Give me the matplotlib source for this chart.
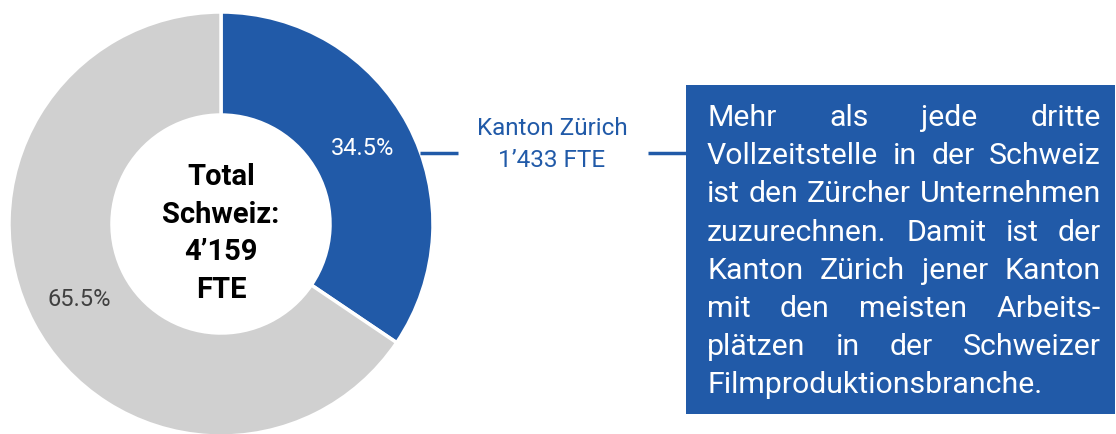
import matplotlib
matplotlib.use("Agg")
import matplotlib.pyplot as plt
from matplotlib.patches import Rectangle

# Data
labels = ['Kanton Zürich', 'Übrige Schweiz']
fte = [1433, 2726]
total_label = ['Total', 'Schweiz:', '4’159', 'FTE']
zh_label = ['Kanton Zürich', '1’433 FTE']
box_lines = [
    'Mehr als jede dritte',
    'Vollzeitstelle in der Schweiz',
    'ist den Zürcher Unternehmen',
    'zuzurechnen. Damit ist der',
    'Kanton Zürich jener Kanton',
    'mit den meisten Arbeits-',
    'plätzen in der Schweizer',
    'Filmproduktionsbranche.',
]

BLUE = '#215AA8'
GREY = '#D0D0D0'
plt.rcParams['font.family'] = ['Roboto', 'DejaVu Sans']

W, H = 1116, 434
fig = plt.figure(figsize=(W / 100, H / 100), dpi=100)
ax = fig.add_axes([0, 0, 1, 1])

def py(y):
    # pixel row (from top) to data y
    return H - y

cx, cy, R = 221, py(224), 212
wedges, texts, autotexts = ax.pie(
    fte, colors=[BLUE, GREY], startangle=90, counterclock=False,
    center=(cx, cy), radius=R, autopct='%.1f%%', pctdistance=0.755,
    wedgeprops=dict(width=R - 109, edgecolor='white', linewidth=2.5),
    textprops=dict(fontsize=17))
autotexts[0].set_color('white')
autotexts[1].set_color('#404040')

ax.set_xlim(0, W)
ax.set_ylim(0, H)
ax.set_aspect('auto')
ax.axis('off')

# centre text
for i, s in enumerate(total_label):
    ax.text(cx, py(185 + i * 37.7), s, ha='center', va='baseline',
            fontsize=21, fontweight='bold', color='black')

# Zurich label with connector lines
ax.plot([420, 458], [py(153), py(153)], color=BLUE, lw=2.5, solid_capstyle='butt')
ax.plot([648, 687], [py(153), py(153)], color=BLUE, lw=2.5, solid_capstyle='butt')
ax.text(552, py(135), zh_label[0], ha='center', va='baseline', fontsize=17.5, color=BLUE)
ax.text(552, py(167), zh_label[1], ha='center', va='baseline', fontsize=17.5, color=BLUE)

# text box
ax.add_patch(Rectangle((686, py(414)), 1115 - 686, 414 - 85, color=BLUE, lw=0))

renderer = fig.canvas.get_renderer()
left, right = 707, 1101
for i, line in enumerate(box_lines):
    y = py(126 + i * 38.2)
    words = line.split()
    if i == len(box_lines) - 1:
        ax.text(left, y, line, ha='left', va='baseline', fontsize=21.8, color='white')
        continue
    objs = [ax.text(0, y, w, ha='left', va='baseline', fontsize=21.8, color='white')
            for w in words]
    widths = [t.get_window_extent(renderer).width for t in objs]
    gap = (right - left - sum(widths)) / (len(words) - 1)
    x = left
    for t, w in zip(objs, widths):
        t.set_x(x)
        x += w + gap

fig.savefig('out.png', dpi=100)
